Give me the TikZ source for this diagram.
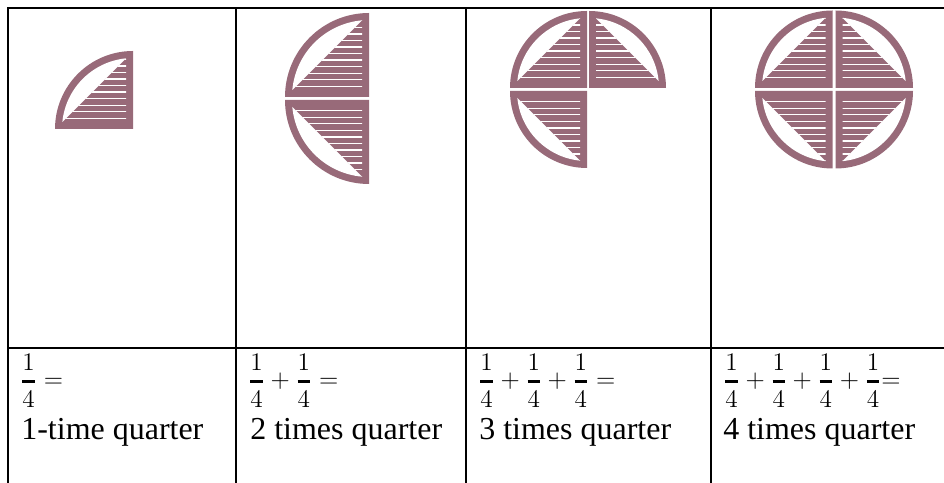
\documentclass[tikz,border=0pt]{standalone}
\usepackage{amsmath}
\usepackage{fontspec}
\setmainfont{Liberation Serif}
\usepackage{tikz}

\definecolor{quartercol}{RGB}{152,106,121}

% one quarter disc: corner x, corner y, xscale, yscale, radius
\newcommand{\quarterdisc}[5]{%
  \begin{scope}[shift={(#1,#2)}, xscale=#3, yscale=#4]
    \pgfmathsetmacro{\ri}{#5-7}
    \pgfmathsetmacro{\ta}{asin(7/\ri)}
    \pgfmathsetmacro{\tb}{90-\ta}
    \pgfmathsetmacro{\leg}{\ri*cos(\ta)}
    \fill[quartercol] (0,0) -- (#5,0) arc[start angle=0, end angle=90, radius=#5] -- cycle;
    \fill[white] (\ta:\ri) arc[start angle=\ta, end angle=\tb, radius=\ri] -- cycle;
    \begin{scope}
      \clip (7,7) -- (\leg,7) -- (7,\leg) -- cycle;
      \foreach \k in {0,...,11}
        \draw[stripe] (0,{10.7+6.55*\k}) -- (#5,{10.7+6.55*\k});
    \end{scope}
  \end{scope}}

\newcommand{\qfrac}{\genfrac{}{}{1.5pt}{0}{1}{4}}

\begin{document}
\begin{tikzpicture}[
  x=0.02cm, y=0.02cm,
  grid/.style={line width=1.1pt},
  stripe/.style={white, line width=0.7pt},
  sumtext/.style={anchor=base west, inner sep=0pt, font=\fontsize{15.5}{18}\selectfont},
  wordtext/.style={anchor=base west, inner sep=0pt, font=\fontsize{18.2}{21}\selectfont}
]
  \useasboundingbox (0,0) rectangle (944,483);

  % table
  \draw[grid] (8,0) -- (8,475) -- (944,475);
  \draw[grid] (8,135) -- (944,135);
  \foreach \cx in {236,466,711}
    \draw[grid] (\cx,0) -- (\cx,475);

  % quarters
  \quarterdisc{133}{354}{-1}{1}{78}

  \quarterdisc{369}{386}{-1}{1}{84}
  \quarterdisc{369}{383}{-1}{-1}{84}

  \quarterdisc{587}{395}{-1}{1}{77}
  \quarterdisc{589}{395}{1}{1}{77}
  \quarterdisc{587}{392}{-1}{-1}{77}

  \quarterdisc{832.5}{395}{-1}{1}{77.5}
  \quarterdisc{835.5}{395}{1}{1}{77.5}
  \quarterdisc{832.5}{392}{-1}{-1}{77.5}
  \quarterdisc{835.5}{392}{1}{-1}{77.5}

  % sums and words
  \node[sumtext] (sum1) at (20,95) {$\qfrac =$};
  \node[sumtext] (sum2) at (248,95) {$\qfrac + \qfrac =$};
  \node[sumtext] (sum3) at (478,95) {$\qfrac + \qfrac + \qfrac =$};
  \node[sumtext] (sum4) at (723,95) {$\qfrac + \qfrac + \qfrac + \qfrac{=}$};

  \node[wordtext] (word1) at (21,43) {1-time quarter};
  \node[wordtext] (word2) at (250,43) {2 times quarter};
  \node[wordtext] (word3) at (479,43) {3 times quarter};
  \node[wordtext] (word4) at (723,43) {4 times quarter};
\end{tikzpicture}
\end{document}
